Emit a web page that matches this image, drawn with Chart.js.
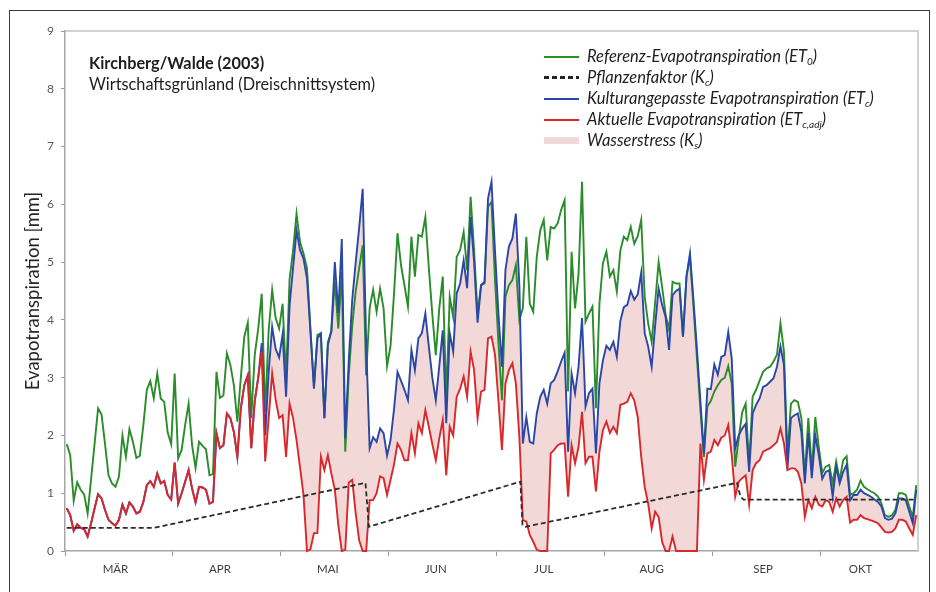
<!DOCTYPE html>
<html lang="de">
<head>
<meta charset="utf-8">
<title>Evapotranspiration Kirchberg/Walde 2003</title>
<script src="https://cdn.jsdelivr.net/npm/chart.js@4.4.1/dist/chart.umd.min.js"></script>
<style>
  html, body { margin: 0; padding: 0; background: #fff; }
  #wrap { position: relative; width: 936px; height: 592px; overflow: hidden; font-family: Lato, "Open Sans", sans-serif; }
  #frame { position: absolute; left: 9px; top: 10px; width: 919px; height: 600px; border: 1.5px solid #3a3a3a; border-bottom: none; }
  canvas { position: absolute; left: 0; top: 0; }
  #info { position: absolute; left: 89px; top: 52px; font-size: 16.3px; line-height: 21px; color: #1e1e1e; }
  #legend { position: absolute; left: 544px; top: 46px; font-size: 16.5px; font-style: italic; color: #1e1e1e; }
  .row { height: 21px; display: flex; align-items: center; white-space: nowrap; }
  .key { width: 35px; height: 2px; margin-right: 8px; flex: none; }
  .txt { display: block; line-height: 21px; }
  sub { font-size: 10px; vertical-align: -3px; line-height: 0; }
</style>
</head>
<body>
<div id="wrap">
  <div id="frame"></div>
  <canvas id="chart" width="936" height="592"></canvas>
  <div id="info"><b>Kirchberg/Walde (2003)</b><br>Wirtschaftsgrünland (Dreischnittsystem)</div>
  <div id="legend">
    <div class="row"><span class="key" style="background:#2a8c2a"></span><span class="txt">Referenz-Evapotranspiration (ET<sub>0</sub>)</span></div>
    <div class="row"><span class="key" style="background:repeating-linear-gradient(to right,#222 0 5px,transparent 5px 8px);height:2.5px"></span><span class="txt">Pflanzenfaktor (K<sub>c</sub>)</span></div>
    <div class="row"><span class="key" style="background:#2a47a8"></span><span class="txt">Kulturangepasste Evapotranspiration (ET<sub>c</sub>)</span></div>
    <div class="row"><span class="key" style="background:#d8282c"></span><span class="txt">Aktuelle Evapotranspiration (ET<sub>c,adj</sub>)</span></div>
    <div class="row"><span class="key" style="background:#f2d8d6;height:7px"></span><span class="txt">Wasserstress (K<sub>s</sub>)</span></div>
  </div>
</div>
<script>
// daily values, 1 March (index 0) to 31 October (index 244)
const months = ['MÄR', 'APR', 'MAI', 'JUN', 'JUL', 'AUG', 'SEP', 'OKT'];
const monthLabelDay = [14, 44, 75, 106, 137, 168, 200, 228];
const monthTickDay = [-0.5, 30.5, 61.5, 92.5, 123.5, 154.5, 185.5, 216.5];

const et0 = [
  1.85,1.66,0.87,1.19,1.06,0.98,0.65,1.25,1.86,2.47,
  2.36,1.85,1.31,1.17,1.11,1.29,2.00,1.63,2.11,1.89,
  1.61,1.65,2.18,2.79,2.94,2.64,3.07,2.64,2.58,2.05,
  1.85,3.07,1.60,1.75,2.18,2.55,1.83,1.44,1.89,1.82,
  1.76,1.31,1.33,3.10,2.65,2.69,3.42,3.22,2.87,2.24,
  3.00,3.71,3.95,2.30,3.40,3.85,4.45,2.40,3.82,4.52,
  4.03,3.85,4.28,3.00,4.70,5.20,5.84,5.35,5.15,4.90,
  3.85,2.85,3.74,3.77,2.30,3.62,3.79,4.66,3.85,4.83,
  1.72,3.04,3.90,4.50,4.90,5.29,3.04,4.20,4.52,4.14,
  4.54,4.20,3.20,3.55,4.45,5.50,4.95,4.60,4.23,5.44,
  4.75,5.47,5.44,5.78,4.90,4.10,3.39,4.20,4.75,2.65,
  4.40,4.05,5.09,5.21,5.52,4.86,6.13,5.20,4.11,4.60,
  4.63,5.96,6.04,4.70,3.60,2.61,4.40,4.60,4.69,4.95,
  4.00,4.20,5.44,4.28,4.14,5.09,5.55,5.73,5.03,5.61,
  5.58,5.67,5.90,6.07,2.76,5.18,4.20,4.80,6.39,3.97,
  4.11,4.23,2.47,4.28,4.98,5.18,4.75,4.86,4.49,5.20,
  5.44,5.38,5.61,5.32,5.45,5.73,4.40,3.94,3.62,4.30,
  5.00,4.57,4.10,3.82,4.66,4.63,4.63,3.71,4.75,5.09,
  4.25,3.35,2.45,1.63,2.50,2.60,2.76,2.87,2.96,3.00,
  3.20,2.90,1.46,1.95,2.40,2.55,1.50,2.67,2.79,2.95,
  3.10,3.16,3.19,3.28,3.40,3.94,3.45,1.65,2.55,2.61,
  2.58,2.30,1.30,2.30,1.40,2.32,1.80,1.35,1.46,1.49,
  1.17,1.55,1.23,1.57,1.64,0.97,1.00,1.06,1.22,1.11,
  1.07,1.03,1.00,0.94,0.82,0.62,0.59,0.62,0.71,1.00,
  1.00,0.97,0.77,0.59,1.14
];

const etc = [
  0.74,0.62,0.35,0.46,0.40,0.38,0.25,0.48,0.74,0.98,
  0.91,0.71,0.54,0.48,0.44,0.54,0.80,0.65,0.84,0.77,
  0.65,0.68,0.85,1.14,1.21,1.11,1.34,1.17,1.21,0.97,
  0.89,1.53,0.82,1.00,1.20,1.40,1.08,0.84,1.11,1.10,
  1.06,0.82,0.85,2.04,1.78,1.83,2.38,2.30,2.06,1.63,
  2.47,2.87,3.04,1.78,2.60,3.00,3.60,2.00,3.10,3.88,
  3.50,3.35,3.75,2.67,4.25,4.90,5.55,5.21,5.06,4.72,
  3.79,2.81,3.68,3.76,2.30,3.56,3.82,5.00,4.12,5.40,
  1.95,3.30,4.35,5.00,5.60,6.27,3.60,1.78,1.97,1.89,
  2.12,2.04,1.65,1.92,2.45,3.10,2.95,2.79,2.61,3.48,
  3.13,3.68,3.77,4.11,3.54,3.00,2.61,3.20,3.82,2.21,
  3.77,3.45,4.46,4.63,5.03,4.55,5.78,5.00,3.95,4.60,
  4.66,6.10,6.39,5.20,4.10,3.19,4.86,5.27,5.41,5.84,
  4.60,1.86,2.32,1.89,1.86,2.38,2.67,2.79,2.55,2.90,
  2.96,3.11,3.28,3.43,1.72,3.07,2.73,3.19,4.03,2.50,
  2.73,2.81,1.69,2.90,3.30,3.55,3.48,3.62,3.36,3.98,
  4.22,4.26,4.50,4.35,4.44,4.82,3.77,3.54,3.19,3.90,
  4.54,4.26,4.05,3.48,4.43,4.50,4.54,3.71,4.75,5.15,
  4.35,3.50,2.60,1.69,2.81,2.80,3.23,3.05,3.36,3.39,
  3.79,3.33,1.78,2.00,2.12,2.20,1.37,2.38,2.53,2.64,
  2.84,2.87,2.93,2.99,3.19,3.54,3.22,1.43,2.30,2.35,
  2.38,2.06,1.17,2.04,1.26,2.00,1.66,1.25,1.37,1.40,
  0.94,1.46,1.17,1.37,1.49,0.88,0.97,0.97,1.06,1.00,
  0.97,0.94,0.89,0.85,0.77,0.57,0.54,0.56,0.65,0.91,
  0.91,0.88,0.68,0.48,1.06
];

const etcAdj = [
  0.74,0.62,0.35,0.46,0.40,0.38,0.25,0.48,0.74,0.98,
  0.91,0.71,0.54,0.48,0.44,0.54,0.80,0.65,0.84,0.77,
  0.65,0.68,0.85,1.14,1.21,1.11,1.34,1.17,1.21,0.97,
  0.89,1.53,0.82,1.00,1.20,1.40,1.08,0.84,1.11,1.10,
  1.06,0.82,0.85,2.04,1.78,1.83,2.38,2.30,2.06,1.63,
  2.47,2.87,3.04,1.78,2.60,3.00,3.45,1.55,2.30,3.07,
  2.62,2.30,2.35,1.63,2.55,2.30,1.92,1.45,0.97,0.00,
  0.03,0.31,0.31,1.63,1.40,1.66,1.34,1.06,0.45,0.00,
  0.02,1.18,1.23,0.65,0.18,0.00,0.00,0.88,0.88,1.00,
  1.29,1.26,0.97,1.23,1.50,1.86,1.75,1.57,1.57,2.04,
  1.69,2.21,2.04,2.44,2.15,1.85,1.57,1.95,2.27,1.31,
  2.15,2.00,2.67,2.81,3.02,2.67,3.45,3.13,2.30,2.76,
  2.79,3.68,3.71,3.40,2.60,1.75,2.90,3.13,3.25,2.90,
  1.98,0.54,0.51,0.28,0.16,0.02,0.00,0.00,0.00,1.69,
  1.75,1.83,1.86,1.86,0.94,1.83,1.52,1.80,2.41,1.52,
  1.63,1.63,1.03,1.72,2.09,2.24,2.04,2.15,2.04,2.53,
  2.55,2.58,2.73,2.61,2.32,1.63,1.11,0.82,0.39,0.68,
  0.59,0.16,0.00,0.00,0.25,0.00,0.00,0.00,0.00,0.00,
  0.00,0.00,1.86,1.23,1.69,1.72,1.92,1.83,1.96,2.00,
  2.18,1.66,0.94,1.20,1.26,1.31,0.80,1.40,1.52,1.57,
  1.72,1.75,1.78,1.83,1.89,2.12,1.86,1.40,1.43,1.43,
  1.37,1.17,0.59,0.88,0.74,0.94,0.80,0.77,0.88,0.85,
  0.68,0.91,0.77,0.88,0.94,0.49,0.54,0.54,0.62,0.57,
  0.55,0.53,0.51,0.48,0.41,0.33,0.32,0.33,0.39,0.54,
  0.54,0.51,0.39,0.28,0.62
];

// crop factor, piecewise linear (cuts reset it)
const kcDay = [0, 25, 85.8, 86.8, 130.3, 130.9, 131.8, 192.5, 193.5, 194.4, 244];
const kcValue = [0.40, 0.40, 1.18, 0.42, 1.20, 0.45, 0.42, 1.18, 0.94, 0.89, 0.89];

const GREEN = '#2a8c2a', BLUE = '#2a47a8', RED = '#d8282c', PINK = '#f2d8d6';

const daily = values => values.map((y, x) => ({ x, y }));

const plotFrame = {
  id: 'plotFrame',
  afterDraw(chart) {
    const { ctx, chartArea } = chart;
    ctx.save();
    ctx.strokeStyle = '#c4c4c4';
    ctx.lineWidth = 1.5;
    ctx.beginPath();
    ctx.moveTo(chartArea.left, chartArea.top);
    ctx.lineTo(chartArea.right, chartArea.top);
    ctx.lineTo(chartArea.right, chartArea.bottom);
    ctx.stroke();
    ctx.restore();
  }
};

Chart.defaults.font.family = 'Lato, "Open Sans", sans-serif';

new Chart(document.getElementById('chart'), {
  type: 'line',
  data: {
    datasets: [
      { label: 'ET0', data: daily(et0), borderColor: GREEN, order: 3 },
      { label: 'Kc', data: kcDay.map((x, i) => ({ x, y: kcValue[i] })), borderColor: '#2b2b2b',
        borderDash: [5, 3], borderWidth: 1.8, order: 0 },
      { label: 'ETc', data: daily(etc), borderColor: BLUE, order: 2 },
      { label: 'ETc,adj', data: daily(etcAdj), borderColor: RED, order: 1,
        fill: { target: 2, above: PINK, below: PINK } }
    ]
  },
  options: {
    responsive: false,
    animation: false,
    devicePixelRatio: 1,
    layout: { padding: { left: 14, top: 31, right: 18, bottom: 11 } },
    elements: {
      point: { radius: 0, hoverRadius: 0 },
      line: { borderWidth: 1.9, tension: 0 }
    },
    clip: 3,
    plugins: {
      legend: { display: false },
      tooltip: { enabled: false },
      filler: { drawTime: 'beforeDatasetsDraw' }
    },
    scales: {
      x: {
        type: 'linear',
        min: -0.5,
        max: 244.5,
        afterBuildTicks: scale => {
          scale.ticks = monthTickDay.concat(monthLabelDay)
            .sort((a, b) => a - b)
            .map(value => ({ value }));
        },
        afterFit: scale => { scale.height = 30; },
        grid: {
          drawOnChartArea: false,
          drawTicks: true,
          tickLength: 5,
          tickColor: ctx => monthTickDay.includes(ctx.tick.value) ? '#9a9a9a' : 'rgba(0,0,0,0)'
        },
        border: { display: true, color: '#a6a6a6', width: 1.5 },
        ticks: {
          autoSkip: false,
          maxRotation: 0,
          padding: 6,
          color: '#404040',
          font: { size: 11.5 },
          callback: value => {
            const k = monthLabelDay.indexOf(value);
            return k >= 0 ? months[k] : '';
          }
        }
      },
      y: {
        min: 0,
        max: 9,
        afterFit: scale => { scale.width = 51; },
        grid: { drawOnChartArea: false, drawTicks: true, tickLength: 4, tickColor: '#9a9a9a' },
        border: { display: true, color: '#a6a6a6', width: 1.5 },
        ticks: { stepSize: 1, padding: 7, color: '#595959', font: { size: 12 } },
        title: {
          display: true,
          text: 'Evapotranspiration [mm]',
          color: '#262626',
          font: { size: 18.5 },
          padding: { top: 8, bottom: 0 }
        }
      }
    }
  },
  plugins: [plotFrame]
});
</script>
</body>
</html>
